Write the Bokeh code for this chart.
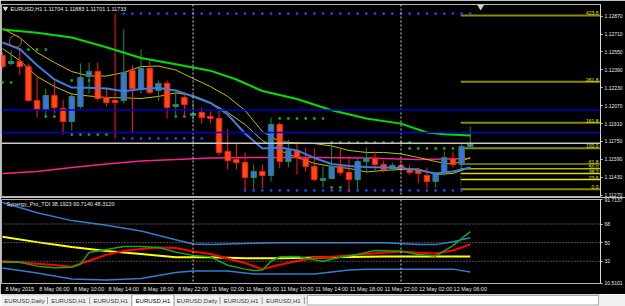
from bokeh.plotting import figure
from bokeh.layouts import column
from bokeh.models import ColumnDataSource, Span, Label, FixedTicker, PrintfTickFormatter, Range1d
from bokeh.core.properties import value
from bokeh.embed import file_html
from bokeh.resources import INLINE

# ---------------- data (hourly bars, k = 0 is 11 May 2015 00:00) ----------------
bar_k = list(range(-22, 33))
opens = [1.12519, 1.12447, 1.12465, 1.12420, 1.12116, 1.12035, 1.12161, 1.12044, 1.11928, 1.12062,
         1.12331, 1.12375, 1.12143, 1.12116, 1.12116, 1.12384, 1.12223, 1.12402, 1.12205, 1.12268,
         1.12062, 1.12143, 1.11982, 1.12009, 1.11973, 1.11955, 1.11660, 1.11588, 1.11561, 1.11427,
         1.11481, 1.11445, 1.11901, 1.11570, 1.11669, 1.11597, 1.11526, 1.11400, 1.11418, 1.11526,
         1.11472, 1.11409, 1.11570, 1.11597, 1.11544, 1.11508, 1.11535, 1.11508, 1.11499, 1.11445,
         1.11391, 1.11472, 1.11597, 1.11544, 1.11704]
highs = [1.12545, 1.12563, 1.12563, 1.12447, 1.12322, 1.12223, 1.12286, 1.12125, 1.12188, 1.12447,
         1.12456, 1.12456, 1.12232, 1.12894, 1.12751, 1.12429, 1.12572, 1.12492, 1.12295, 1.12295,
         1.12188, 1.12188, 1.12098, 1.12053, 1.12018, 1.12027, 1.11857, 1.11731, 1.11651, 1.11544,
         1.11544, 1.11964, 1.11919, 1.11767, 1.11749, 1.11695, 1.11687, 1.11526, 1.11740, 1.11695,
         1.11615, 1.11597, 1.11695, 1.11660, 1.11579, 1.11561, 1.11561, 1.11535, 1.11517, 1.11517,
         1.11472, 1.11660, 1.11660, 1.11731, 1.11883]
lows = [1.12402, 1.12429, 1.12340, 1.12107, 1.11964, 1.11982, 1.12000, 1.11812, 1.11848, 1.12044,
        1.12179, 1.12116, 1.12062, 1.11776, 1.12089, 1.11821, 1.12179, 1.12170, 1.12116, 1.11955,
        1.11964, 1.11964, 1.11937, 1.11910, 1.11910, 1.11624, 1.11499, 1.11499, 1.11320, 1.11320,
        1.11329, 1.11391, 1.11508, 1.11517, 1.11454, 1.11481, 1.11391, 1.11338, 1.11409, 1.11445,
        1.11293, 1.11320, 1.11472, 1.11490, 1.11472, 1.11490, 1.11472, 1.11454, 1.11374, 1.11329,
        1.11338, 1.11445, 1.11517, 1.11517, 1.11701]
closes = [1.12420, 1.12465, 1.12420, 1.12116, 1.12035, 1.12161, 1.12053, 1.11928, 1.12152, 1.12322,
          1.12375, 1.12134, 1.12098, 1.12098, 1.12366, 1.12223, 1.12402, 1.12188, 1.12268, 1.12053,
          1.12080, 1.12080, 1.12000, 1.11964, 1.11955, 1.11651, 1.11579, 1.11561, 1.11427, 1.11481,
          1.11445, 1.11901, 1.11570, 1.11669, 1.11606, 1.11526, 1.11409, 1.11418, 1.11526, 1.11472,
          1.11409, 1.11570, 1.11597, 1.11544, 1.11499, 1.11535, 1.11508, 1.11472, 1.11463, 1.11391,
          1.11463, 1.11606, 1.11544, 1.11704, 1.11733]

ma_k = [-22, -20, -18, -16, -14, -12, -10, -8, -6, -4, -2, 0, 2, 4, 6, 8, 10, 12, 14, 16, 18, 20, 22, 24, 26, 28, 30, 32]
blue_ma = [1.12635, 1.12577, 1.12431, 1.12304, 1.12232, 1.12231, 1.12223, 1.12199, 1.12219, 1.12228,
           1.12205, 1.12152, 1.12094, 1.11991, 1.11821, 1.11687, 1.11695, 1.11669, 1.11602, 1.11548,
           1.11530, 1.11521, 1.11517, 1.11512, 1.11493, 1.11463, 1.11481, 1.11517]
band_upper = [1.12760, 1.12679, 1.12545, 1.12456, 1.12375, 1.12335, 1.12335, 1.12366, 1.12420, 1.12424,
              1.12389, 1.12313, 1.12241, 1.12152, 1.12027, 1.11839, 1.11749, 1.11736, 1.11731, 1.11709,
              1.11669, 1.11651, 1.11651, 1.11638, 1.11606, 1.11570, 1.11544, 1.11606]
band_lower = [1.12581, 1.12474, 1.12331, 1.12241, 1.12174, 1.12156, 1.12143, 1.12139, 1.12134, 1.12152,
              1.12184, 1.12161, 1.12098, 1.12009, 1.11901, 1.11758, 1.11669, 1.11606, 1.11553, 1.11526,
              1.11508, 1.11477, 1.11490, 1.11499, 1.11504, 1.11454, 1.11463, 1.11517]
green_ma_k = [-22, -18, -14, -10, -6, -2, 2, 5, 8, 12, 16, 20, 24, 27, 29, 32]
green_ma = [1.12751, 1.12722, 1.12679, 1.12592, 1.12497, 1.12440, 1.12383, 1.12304, 1.12201, 1.12129,
            1.12029, 1.11955, 1.11909, 1.11830, 1.11815, 1.11803]
pink_k = [-22, -18, -14, -10, -6, -2, 2, 8, 14, 20, 26, 32]
pink_ma = [1.11463, 1.11481, 1.11517, 1.11548, 1.11575, 1.11588, 1.11602, 1.11606, 1.11606, 1.11602, 1.11588, 1.11597]

# horizontal price objects
user_lines = [1.12030, 1.11830]
bid_price = 1.11733
high_marker = (1.12894, -8, 32)
low_markers = [(1.11776, -8, 1), (1.11311, 6, 31)]
green_markers = [(1.12572, -20, -17), (1.12277, -22, -21), (1.12295, -14, -12), (1.11973, -17, -16),
                 (1.11973, -2, -1), (1.11812, -14, -10), (1.11955, 10, 15), (1.11338, 16, 17),
                 (1.11740, 16, 25), (1.11687, 25, 31)]

# fibonacci
fib_ratios = [0.0, 23.6, 38.2, 50.0, 61.8, 100.0, 161.8, 261.8, 423.6]
fib_low, fib_high = 1.11322, 1.11689
fib_start_k = 30.9

price_ticks = [1.11270, 1.11430, 1.11590, 1.11750, 1.11910, 1.12070, 1.12230, 1.12390, 1.12550, 1.12710, 1.12870]

# indicator (Synergy_Pro_TDI)
tdi_up_k = [-22, -18, -14, -10, -6, -2, 0, 2, 6, 10, 16, 22, 26, 28, 30, 32]
tdi_up = [88.8, 78.9, 71.3, 66.9, 61.2, 52.8, 48.6, 48.1, 49.1, 50.0, 50.0, 50.0, 48.1, 48.1, 50.9, 54.7]
tdi_lo_k = [-22, -18, -14, -10, -6, -2, 0, 4, 7, 14, 18, 20, 26, 30, 32]
tdi_lo = [25.4, 20.6, 14.9, 14.0, 15.4, 21.1, 22.5, 22.5, 19.7, 19.7, 23.5, 24.4, 24.4, 24.4, 21.6]
tdi_sig_k = [-22, -18, -14, -10, -6, -2, 2, 6, 10, 16, 22, 32]
tdi_sig = [55.7, 50.5, 45.7, 41.9, 39.1, 35.8, 35.8, 34.8, 34.8, 35.8, 36.7, 36.7]
tdi_red = [32.0, 31.1, 29.6, 28.5, 26.8, 32.5, 38.2, 42.1, 43.8, 45.3, 44.8, 41.5, 39.1, 34.6, 30.3, 24.4,
           28.7, 32.2, 35.3, 36.3, 37.7, 39.0, 40.3, 41.5, 40.3, 39.6, 42.4, 48.3]
tdi_green_k = [-22, -20, -18, -16, -14, -13, -12, -10, -8, -6, -4, -2, 0, 2, 4, 6, 7, 8, 9, 10, 12, 14, 15,
               17, 19, 21, 24, 26, 28, 30, 32]
tdi_green = [31.1, 31.1, 27.3, 25.8, 26.3, 29.2, 40.5, 43.4, 46.2, 46.2, 45.3, 41.0, 37.7, 36.3, 28.2, 24.4,
             23.0, 23.5, 32.0, 36.3, 36.7, 33.4, 32.0, 35.8, 38.6, 42.4, 41.8, 38.6, 37.0, 47.2, 60.7]
tdi_levels = [68, 50, 32]
tdi_min, tdi_max = 10.5101, 91.7137

time_tick_bars = [-22, -18, -14, -10, -6, -2, 2, 6, 10, 14, 18, 22, 26, 30]
time_tick_labels = ["8 May 2015", "8 May 06:00", "8 May 10:00", "8 May 14:00", "8 May 18:00", "8 May 22:00",
                    "11 May 02:00", "11 May 06:00", "11 May 10:00", "11 May 14:00", "11 May 18:00",
                    "11 May 22:00", "12 May 02:00", "12 May 06:00"]
day_sep_bars = [0, 24]

tab_names = ["EURUSD,Daily", "EURUSD,H1", "EURUSD,H1", "EURUSD,H1", "EURUSD,Daily", "EURUSD,H1", "EURUSD,H1"]
active_tab = 3

title_main = "EURUSD,H1  1.11704 1.11883 1.11701 1.11733"
title_ind = "Synergy_Pro_TDI 38.1923 60.7140 48.3120"

# ---------------- styles ----------------
FONT = "Liberation Sans"
X_START, X_END = -22.11, 47.03
Y_BOT, Y_TOP = 1.11257, 1.12975
BULL_FILL, BULL_LINE = "#3f6fe6", "#1f8f3a"
BEAR_FILL, BEAR_LINE = "#ff4a10", "#ff1a1a"
AXIS_C = "#d8d8d8"
LABEL_SHIFT = 2

def style_fig(f):
    f.background_fill_color = "black"
    f.border_fill_color = "black"
    f.outline_line_color = "#b4b4b4"
    f.grid.visible = False

def style_yaxis(ax):
    ax.major_label_text_font_size = "5px"
    ax.major_label_text_font = FONT
    ax.major_label_text_color = "#e6e6e6"
    ax.axis_line_color = AXIS_C
    ax.major_tick_line_color = AXIS_C
    ax.major_tick_out = 2
    ax.major_tick_in = 0
    ax.minor_tick_line_color = None
    ax.major_label_standoff = 2

# ---------------- main price panel ----------------
p = figure(width=625, height=197, x_range=Range1d(X_START, X_END), y_range=Range1d(Y_BOT, Y_TOP),
           output_backend="svg", toolbar_location=None, x_axis_location=None, y_axis_location="right",
           min_border_left=1, min_border_right=20, min_border_top=4, min_border_bottom=1)
style_fig(p)
ay = p.yaxis[0]
ay.ticker = FixedTicker(ticks=price_ticks)
ay.formatter = PrintfTickFormatter(format="%.5f")
style_yaxis(ay)

for k in day_sep_bars:
    p.add_layout(Span(location=k, dimension="height", line_color="#d0d0d0", line_dash="2 2", line_width=1))

for lvl in user_lines:
    p.add_layout(Span(location=lvl, dimension="width", line_color="#0000d0", line_width=1.5))
p.add_layout(Span(location=bid_price, dimension="width", line_color="#c8c8c8", line_width=1.5))

# fibonacci levels
fib_prices = [fib_low + r / 100.0 * (fib_high - fib_low) for r in fib_ratios]
fib_colors = ["#8c8c00", "#e6e600", "#d8d800", "#b4b400", "#8c8c00", "#8c8c00", "#8c8c00", "#8c8c00", "#8c8c00"]
fib_widths = [2, 1.5, 1.5, 1.5, 1.5, 2, 2, 2, 2]
for fp, fc, fw in zip(fib_prices, fib_colors, fib_widths):
    p.line([fib_start_k, X_END], [fp, fp], line_color=fc, line_width=fw)
p.text(x=[X_END] * len(fib_prices), y=fib_prices, text=["%.1f" % r for r in fib_ratios],
       text_align="right", text_baseline="bottom", x_offset=-2, y_offset=0,
       text_font=value(FONT), text_font_size="5px", text_color="#e6e600")
p.line([fib_start_k, fib_start_k], [fib_low, fib_high], line_color="#2a8a2a", line_dash="1 2", line_width=1)

# dotted high / low markers
hm_p, hm_a, hm_b = high_marker
p.scatter(list(range(hm_a, hm_b + 1)), [hm_p] * (hm_b - hm_a + 1), marker="square", size=1.6,
          color="#2040ff")
for lp, a, b in low_markers:
    p.scatter(list(range(a, b + 1)), [lp] * (b - a + 1), marker="square", size=1.6, color="#2040ff")
for gp, a, b in green_markers:
    p.scatter(list(range(a, b + 1)), [gp] * (b - a + 1), marker="square", size=1.6, color="#10b010")

# moving averages / bands behind candles
p.line(pink_k, pink_ma, line_color="#ff2090", line_width=1.5)
p.line(ma_k, band_upper, line_color="#c0c000", line_width=1)
p.line(ma_k, band_lower, line_color="#c0c000", line_width=1)

# candles
bull = [i for i in range(len(bar_k)) if closes[i] >= opens[i]]
bear = [i for i in range(len(bar_k)) if closes[i] < opens[i]]

def candle_src(idx):
    return ColumnDataSource(dict(
        k=[bar_k[i] for i in idx], hi=[highs[i] for i in idx], lo=[lows[i] for i in idx],
        top=[max(opens[i], closes[i]) for i in idx], bot=[min(opens[i], closes[i]) for i in idx]))

sb, sr = candle_src(bull), candle_src(bear)
p.segment(x0="k", y0="lo", x1="k", y1="hi", source=sb, line_color=BULL_LINE, line_width=1)
p.segment(x0="k", y0="lo", x1="k", y1="hi", source=sr, line_color=BEAR_LINE, line_width=1)
p.vbar(x="k", width=0.62, top="top", bottom="bot", source=sb, fill_color=BULL_FILL, line_color=BULL_LINE, line_width=1)
p.vbar(x="k", width=0.62, top="top", bottom="bot", source=sr, fill_color=BEAR_FILL, line_color=BEAR_LINE, line_width=1)

p.line(ma_k, blue_ma, line_color="#3d7be0", line_width=2)
p.line(green_ma_k, green_ma, line_color="#00e000", line_width=2)

# drawn circle object and chart-shift marker
p.scatter([-20.5], [1.12644], marker="circle", size=12, fill_color=None, line_color="#b06030", line_width=1)
p.scatter([33.2], [1.12958], marker="inverted_triangle", size=6, color="#d0d0d0")

# title
p.scatter([X_START + 0.45], [1.12940], marker="inverted_triangle", size=4, color="#e0e0e0")
p.add_layout(Label(x=X_START, y=Y_TOP, x_offset=9, y_offset=-4, text=title_main, text_font=FONT,
                   text_font_size="5.5px", text_color="#e6e6e6", text_baseline="middle", text_align="left"))

# price boxes on the axis
for lp, txt, bg, fg in [(user_lines[0], "%.5f" % user_lines[0], "#0000e6", "white"),
                        (user_lines[1], "%.5f" % user_lines[1], "#0000e6", "white"),
                        (bid_price, "%.5f" % bid_price, "white", "black")]:
    p.add_layout(Label(x=X_END, y=lp, x_offset=1, text=txt, text_font=FONT, text_font_size="5px",
                       text_color=fg, background_fill_color=bg, text_baseline="middle", text_align="left",
                       padding=1))

# ---------------- indicator panel ----------------
p2 = figure(width=625, height=97, x_range=p.x_range, y_range=Range1d(tdi_min, tdi_max),
            output_backend="svg", toolbar_location=None, x_axis_location="below", y_axis_location="right",
            min_border_left=1, min_border_right=20, min_border_top=2, min_border_bottom=0)
style_fig(p2)
a2 = p2.yaxis[0]
ytk = [tdi_min + 0.01] + tdi_levels[::-1] + [tdi_max - 0.01]
a2.ticker = FixedTicker(ticks=ytk)
ov = {tdi_min + 0.01: "%.4f" % tdi_min, tdi_max - 0.01: "%.4f" % tdi_max}
for lv in tdi_levels:
    ov[lv] = str(lv)
a2.major_label_overrides = ov
style_yaxis(a2)

ax2 = p2.xaxis[0]
ax2.ticker = FixedTicker(ticks=[k + LABEL_SHIFT for k in time_tick_bars])
ax2.major_label_overrides = {k + LABEL_SHIFT: lab for k, lab in zip(time_tick_bars, time_tick_labels)}
ax2.major_label_text_font_size = "5.5px"
ax2.major_label_text_font = FONT
ax2.major_label_text_color = "#e6e6e6"
ax2.axis_line_color = None
ax2.major_tick_line_color = None
ax2.minor_tick_line_color = None
ax2.major_tick_out = 1
ax2.major_label_standoff = 1

for lv in tdi_levels:
    p2.add_layout(Span(location=lv, dimension="width", line_color="#9a9a9a", line_dash="1 2", line_width=1))
for k in day_sep_bars:
    p2.add_layout(Span(location=k, dimension="height", line_color="#d0d0d0", line_dash="2 2", line_width=1))

p2.line(tdi_up_k, tdi_up, line_color="#2a7fd4", line_width=1.5)
p2.line(tdi_lo_k, tdi_lo, line_color="#2a7fd4", line_width=1.5)
p2.line(tdi_sig_k, tdi_sig, line_color="#ffff00", line_width=2)
p2.line(ma_k, tdi_red, line_color="#ff0000", line_width=2)
p2.line(tdi_green_k, tdi_green, line_color="#13a813", line_width=1.5)

p2.add_layout(Label(x=X_START, y=tdi_max, x_offset=5, y_offset=-4, text=title_ind, text_font=FONT,
                    text_font_size="5.5px", text_color="#e6e6e6", text_baseline="middle", text_align="left"))

# ---------------- tab bar ----------------
tb = figure(width=625, height=12, x_range=Range1d(0, 625), y_range=Range1d(0, 12),
            output_backend="svg", toolbar_location=None, x_axis_location=None, y_axis_location=None,
            min_border=0)
tb.background_fill_color = "#f0f0f0"
tb.border_fill_color = "#f0f0f0"
tb.outline_line_color = None
tb.grid.visible = False
edges = [0]
for nm in tab_names:
    edges.append(edges[-1] + (48 if "Daily" in nm else 44))
tb.quad(left=[edges[active_tab]], right=[edges[active_tab + 1]], bottom=[0], top=[12],
        fill_color="white", line_color="#909090", line_width=1)
tb.quad(left=[edges[-1] + 3], right=[623], bottom=[1.5], top=[11], fill_color="white", line_color="#a8a8a8")
sep = [e for i, e in enumerate(edges[1:], 1) if i != active_tab and i != active_tab + 1]
tb.segment(x0=sep, y0=[2.5] * len(sep), x1=sep, y1=[9.5] * len(sep), line_color="#9a9a9a", line_width=1)
tb.text(x=[(edges[i] + edges[i + 1]) / 2 for i in range(len(tab_names))], y=[6] * len(tab_names),
        text=tab_names, text_align="center", text_baseline="middle", text_font=value(FONT),
        text_font_size="6px", text_color=["#000000" if i == active_tab else "#3a3a3a" for i in range(len(tab_names))])
tb.line([0, 625], [11.8, 11.8], line_color="#a0a0a0", line_width=1)

layout = column(p, p2, tb, spacing=0)
open("out.html", "w").write(file_html(layout, INLINE))
